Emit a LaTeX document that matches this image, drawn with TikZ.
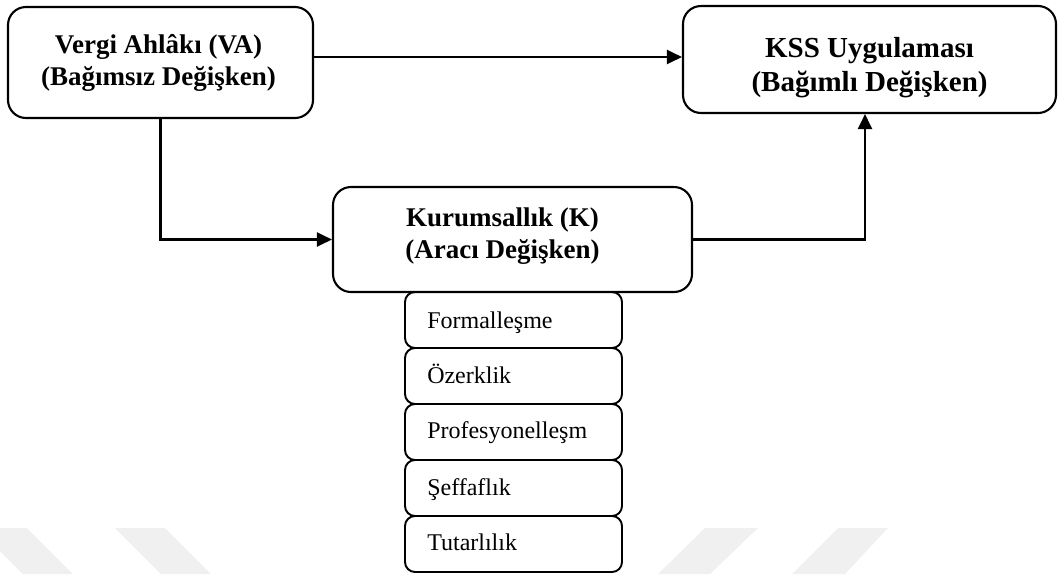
\documentclass[tikz,border=0pt]{standalone}
\usepackage{fontspec}
\setmainfont{Liberation Serif}
\usetikzlibrary{arrows.meta,calc}
\begin{document}
\begin{tikzpicture}[x=1pt,y=-1pt,
  bigbox/.style={draw,line width=2.1pt,rounded corners=18pt,inner sep=0pt},
  smallbox/.style={draw,line width=1.9pt,rounded corners=10pt,inner sep=0pt,minimum width=217pt,minimum height=56pt},
  bigtext/.style={align=center,inner sep=0pt,font=\fontsize{27}{32}\selectfont\bfseries},
  kssfont/.style={align=center,inner sep=0pt,font=\fontsize{29}{34}\selectfont\bfseries},
  smalltext/.style={anchor=base west,inner sep=0pt,font=\fontsize{24}{28}\selectfont},
  conn/.style={line width=2.1pt},
  arr/.style={conn,-{Triangle[length=15pt,width=14pt]}},
  wmark/.style={fill=black!6,draw=none}]
\useasboundingbox (0,0) rectangle (1059,574);
% faint watermark
\fill[wmark] (-23,528) -- (27,528) -- (73,574) -- (23,574) -- cycle;
\fill[wmark] (115,528) -- (165,528) -- (211,574) -- (161,574) -- cycle;
\fill[wmark] (705,528) -- (758,528) -- (710,574) -- (658,574) -- cycle;
\fill[wmark] (838,528) -- (888,528) -- (845,574) -- (792,574) -- cycle;
% main boxes
\node[bigbox,minimum width=305pt,minimum height=111pt] (VA) at (160.5,62.5) {};
\node[bigbox,minimum width=373pt,minimum height=107pt] (KSS) at (869.5,59.5) {};
\node[bigbox,minimum width=359pt,minimum height=105pt] (K) at (512.5,239.5) {};
\node[bigtext] (VAt) at ([xshift=-2pt]VA.center) {Vergi Ahlâkı (VA)\\(Bağımsız Değişken)};
\node[kssfont] (KSSt) at ([yshift=-8.5pt]KSS.center) {KSS Uygulaması\\(Bağımlı Değişken)};
\node[bigtext] (Kt) at ([xshift=-10pt,yshift=3.5pt]K.center) {Kurumsallık (K)\\(Aracı Değişken)};
% dimension boxes
\node[smallbox] (d1) at (513.5,320) {};
\node[smallbox] (d2) at (513.5,376) {};
\node[smallbox] (d3) at (513.5,432) {};
\node[smallbox] (d4) at (513.5,488) {};
\node[smallbox] (d5) at (513.5,544) {};
\node[smalltext] (t1) at ([xshift=23pt,yshift=-8pt]d1.west) {Formalleşme};
\node[smalltext] (t2) at ([xshift=23pt,yshift=-7pt]d2.west) {Özerklik};
\node[smalltext] (t3) at ([xshift=23pt,yshift=-6pt]d3.west) {Profesyonelleşm};
\node[smalltext] (t4) at ([xshift=23pt,yshift=-7pt]d4.west) {Şeffaflık};
\node[smalltext] (t5) at ([xshift=23pt,yshift=-6pt]d5.west) {Tutarlılık};
% connectors
\coordinate (yl) at (0,57);
\coordinate (kx) at (865,0);
\draw[arr] (VA.east |- yl) -- (KSS.west |- yl);
\draw[arr] (VA.south) |- (K.west);
\draw[arr] (K.east) -| (kx |- KSS.south);
\end{tikzpicture}
\end{document}
